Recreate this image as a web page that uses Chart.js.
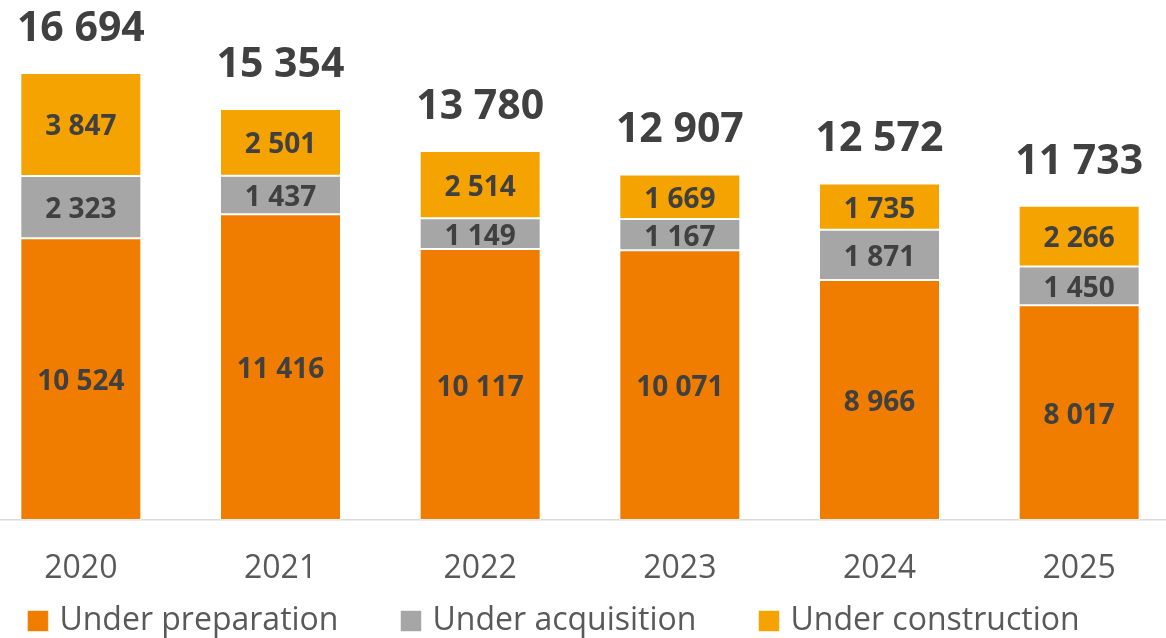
<!DOCTYPE html>
<html>
<head>
<meta charset="utf-8">
<title>Projects by status</title>
<script src="https://cdn.jsdelivr.net/npm/chart.js@4/dist/chart.umd.min.js"></script>
<style>
    html, body { margin: 0; padding: 0; background: #fff; overflow: hidden; }
    #page { position: relative; width: 1166px; height: 638px; overflow: hidden; }
    #wrap { position: absolute; left: -67px; top: 0; width: 1246px; height: 647px; }
</style>
</head>
<body>
<div id="page">
    <div id="wrap"><canvas id="projectsChart"></canvas></div>
</div>
<script>
/* ----- data ----- */

const years = ["2020", "2021", "2022", "2023", "2024", "2025"];

const underPreparation = [10524, 11416, 10117, 10071, 8966, 8017];
const underAcquisition = [2323, 1437, 1149, 1167, 1871, 1450];
const underConstruction = [3847, 2501, 2514, 1669, 1735, 2266];

const FONT = "'Open Sans'";
const TEXT_DARK = "#404040";
const TEXT_GREY = "#595959";

function fmt(v) {
    return String(v).replace(/\B(?=(\d{3})+(?!\d))/g, " ");
}

/* labels inside segments + totals above bars */
const valueLabels = {
    id: "valueLabels",
    afterDatasetsDraw(chart) {
        const ctx = chart.ctx;
        const sets = chart.data.datasets;
        ctx.save();
        ctx.textAlign = "center";
        ctx.textBaseline = "middle";
        ctx.fillStyle = TEXT_DARK;

        ctx.font = "bold 28px " + FONT;
        sets.forEach((ds, i) => {
            chart.getDatasetMeta(i).data.forEach((bar, j) => {
                ctx.fillText(fmt(ds.data[j]), bar.x, (bar.y + bar.base) / 2 + 3);
            });
        });

        ctx.font = "bold 41px " + FONT;
        const topBars = chart.getDatasetMeta(sets.length - 1).data;
        topBars.forEach((bar, j) => {
            const total = sets.reduce((s, ds) => s + ds.data[j], 0);
            ctx.fillText(fmt(total), bar.x, bar.y - 44);
        });
        ctx.restore();
    }
};

const canvas = document.getElementById("projectsChart");

new Chart(canvas, {
    type: "bar",
    data: {
        labels: years,
        datasets: [
            {
                label: "Under preparation",
                data: underPreparation,
                backgroundColor: "#F07D00"
            },
            {
                label: "Under acquisition",
                data: underAcquisition,
                backgroundColor: "#A6A6A6"
            },
            {
                label: "Under construction",
                data: underConstruction,
                backgroundColor: "#F5A300"
            }
        ]
    },
    options: {
        responsive: true,
        maintainAspectRatio: false,
        animation: false,
        datasets: {
            bar: {
                barPercentage: 0.606,
                categoryPercentage: 1,
                borderWidth: 1,
                borderColor: "rgba(255,255,255,0.55)",
                borderSkipped: false
            }
        },
        layout: { padding: 0 },
        plugins: {
            tooltip: { enabled: false },
            legend: {
                position: "bottom",
                labels: {
                    usePointStyle: true,
                    pointStyle: "rect",
                    boxWidth: 11,
                    boxHeight: 21,
                    padding: 67,
                    color: TEXT_GREY,
                    font: { family: FONT, size: 32 }
                }
            }
        },
        scales: {
            x: {
                stacked: true,
                grid: { display: false, drawTicks: false },
                border: { display: true, color: "#D9D9D9", width: 1.5 },
                ticks: {
                    color: TEXT_GREY,
                    padding: 30,
                    font: { family: FONT, size: 32 }
                },
                afterFit(scale) {
                    // keep the axis thin so the legend sits close; let labels draw below it
                    scale.height = 18;
                    scale._computeLabelArea = () => undefined;
                }
            },
            y: {
                stacked: true,
                min: 0,
                max: 19421,
                ticks: { display: false },
                grid: { display: false, drawTicks: false },
                border: { display: false },
                afterFit(scale) { scale.width = 48; }
            }
        }
    },
    plugins: [valueLabels]
});
</script>
</body>
</html>
